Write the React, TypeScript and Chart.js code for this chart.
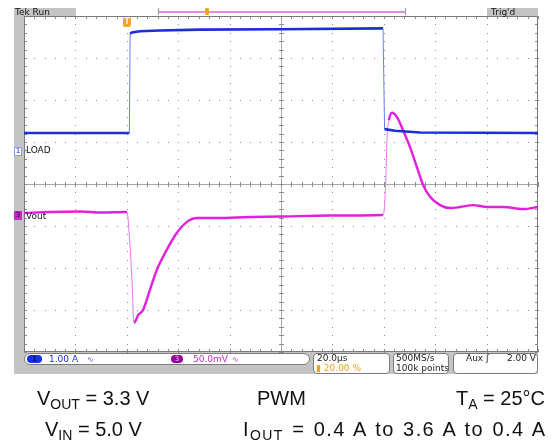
import React, { useEffect, useRef } from "react";
import { Chart, registerables } from "chart.js";

Chart.register(...registerables);

// ---- Data (time in µs relative to trigger, 20 µs/div) ----
const X_MIN_US = -40;
const X_MAX_US = 160;
const US_PER_DIV = 20;

// Channel 1: LOAD current (A), 1.00 A/div
const loadTimeUs = [-40, 1.0, 1.3, 2.0, 5.1, 12.9, 28.5, 59.6, 99.7, 100.3, 104.4, 114.1, 160];
const loadAmps = [0.43, 0.43, 2.79, 2.82, 2.85, 2.87, 2.89, 2.9, 2.92, 0.52, 0.48, 0.44, 0.43];

// Channel 3: Vout deviation (mV), 50.0 mV/div
const voutTimeUs = [
  -40, -30, -18, -10, 0.1, 0.9, 2.0, 2.8, 3.4, 4.4, 6.3, 9.0, 11.7, 15.6, 19.5, 23.4, 27.3,
  35.1, 47.9, 59.6, 79, 99.7, 100.3, 100.9, 101.2, 102, 103.2, 105.1, 107.5, 110.2, 112.9,
  115.3, 118, 121.9, 125.8, 129.7, 134.7, 140.2, 146.4, 154.2, 160,
];
const voutMv = [
  3.6, 4.8, 5.4, 4.2, 4.8, -20, -76, -127, -125, -118, -112, -88, -64, -40, -20, -7, -2.4,
  -2.4, -1.2, -0.6, 0.6, 1.2, 13, 55, 90, 114, 123, 118, 102, 82, 58, 37, 23, 13, 9.5, 10.7,
  13, 10.7, 10.7, 8.3, 10.7,
];

// Channel settings
const CH1_A_PER_DIV = 1.0;
const CH1_OFFSET_DIV = 0.786; // ground marker above center
const CH3_MV_PER_DIV = 50.0;
const CH3_OFFSET_DIV = -0.762; // marker below center
const V_DIVS = 4;

const BLUE = "#1a2fd4";
const BLUE_EDGE = "#6a7cf4";
const MAGENTA = "#e21fdc";
const MAGENTA_EDGE = "#f070f0";

const edgeWidth = (thick: number) => (ctx: any) => {
  const dx = Math.abs(ctx.p1.x - ctx.p0.x);
  const dy = Math.abs(ctx.p1.y - ctx.p0.y);
  return dy / Math.max(dx, 0.5) > 6 ? 1 : thick;
};
const edgeColor = (main: string, edge: string) => (ctx: any) => {
  const dx = Math.abs(ctx.p1.x - ctx.p0.x);
  const dy = Math.abs(ctx.p1.y - ctx.p0.y);
  return dy / Math.max(dx, 0.5) > 6 ? edge : main;
};

const gridPlugin = {
  id: "scopeGrid",
  beforeDatasetsDraw(chart: any) {
    const { ctx, chartArea: a, scales } = chart;
    const x = scales.x;
    const y = scales.yDiv;
    ctx.save();
    const minorX = US_PER_DIV / 5;
    // dotted vertical majors
    ctx.fillStyle = "#8c8c8c";
    for (let t = X_MIN_US + US_PER_DIV; t < X_MAX_US; t += US_PER_DIV) {
      if (Math.abs(t - (X_MIN_US + X_MAX_US) / 2) < 1e-6) continue;
      const px = Math.round(x.getPixelForValue(t));
      for (let d = -V_DIVS; d <= V_DIVS + 1e-6; d += 0.2) {
        const py = Math.round(y.getPixelForValue(d));
        ctx.fillRect(px, py, 1, 1);
      }
    }
    // dotted horizontal majors
    for (let d = -V_DIVS + 1; d < V_DIVS; d++) {
      if (d === 0) continue;
      const py = Math.round(y.getPixelForValue(d));
      for (let t = X_MIN_US; t <= X_MAX_US + 1e-6; t += minorX) {
        const px = Math.round(x.getPixelForValue(t));
        ctx.fillRect(px, py, 1, 1);
      }
    }
    // center cross
    ctx.strokeStyle = "#a8a8a8";
    ctx.lineWidth = 1;
    const cx = Math.round(x.getPixelForValue((X_MIN_US + X_MAX_US) / 2)) + 0.5;
    const cy = Math.round(y.getPixelForValue(0)) + 0.5;
    ctx.beginPath();
    ctx.moveTo(a.left, cy);
    ctx.lineTo(a.right, cy);
    ctx.moveTo(cx, a.top);
    ctx.lineTo(cx, a.bottom);
    ctx.stroke();
    ctx.strokeStyle = "#8c8c8c";
    ctx.beginPath();
    for (let t = X_MIN_US; t <= X_MAX_US + 1e-6; t += minorX) {
      const px = Math.round(x.getPixelForValue(t)) + 0.5;
      ctx.moveTo(px, cy - 2.5);
      ctx.lineTo(px, cy + 2.5);
      // border ticks
      ctx.moveTo(px, a.top);
      ctx.lineTo(px, a.top + 3);
      ctx.moveTo(px, a.bottom);
      ctx.lineTo(px, a.bottom - 3);
    }
    for (let d = -V_DIVS; d <= V_DIVS + 1e-6; d += 0.2) {
      const py = Math.round(y.getPixelForValue(d)) + 0.5;
      ctx.moveTo(cx - 2.5, py);
      ctx.lineTo(cx + 2.5, py);
      ctx.moveTo(a.left, py);
      ctx.lineTo(a.left + 3, py);
      ctx.moveTo(a.right, py);
      ctx.lineTo(a.right - 3, py);
    }
    ctx.stroke();
    // border
    ctx.strokeStyle = "#7a7a7a";
    ctx.strokeRect(a.left + 0.5, a.top + 0.5, a.right - a.left - 1, a.bottom - a.top - 1);
    ctx.restore();
  },
};

const abs = (s: React.CSSProperties): React.CSSProperties => ({ position: "absolute", ...s });
const small: React.CSSProperties = {
  fontFamily: "'DejaVu Sans', sans-serif",
  fontSize: "9px",
  lineHeight: "9px",
  whiteSpace: "nowrap",
};
const cap: React.CSSProperties = {
  fontFamily: "'Liberation Sans', Arial, sans-serif",
  fontSize: "20px",
  lineHeight: "20px",
  color: "#111",
  whiteSpace: "nowrap",
};
const subS: React.CSSProperties = { fontSize: "14px", verticalAlign: "-4px", lineHeight: "0" };

export default function App() {
  const ref = useRef<HTMLCanvasElement | null>(null);
  useEffect(() => {
    if (!ref.current) return;
    const chart = new Chart(ref.current, {
      type: "line",
      data: {
        datasets: [
          {
            label: "LOAD",
            data: loadTimeUs.map((t, i) => ({ x: t, y: loadAmps[i] })),
            yAxisID: "yLoad",
            borderColor: BLUE,
            borderWidth: 2.6,
            pointRadius: 0,
            segment: { borderWidth: edgeWidth(2.6), borderColor: edgeColor(BLUE, BLUE_EDGE) },
          },
          {
            label: "Vout",
            data: voutTimeUs.map((t, i) => ({ x: t, y: voutMv[i] })),
            yAxisID: "yVout",
            borderColor: MAGENTA,
            borderWidth: 2.4,
            pointRadius: 0,
            cubicInterpolationMode: "monotone",
            segment: { borderWidth: edgeWidth(2.4), borderColor: edgeColor(MAGENTA, MAGENTA_EDGE) },
          },
        ],
      },
      options: {
        animation: false,
        responsive: false,
        maintainAspectRatio: false,
        layout: { padding: { left: 24, right: 19, top: 16, bottom: 95 } },
        plugins: { legend: { display: false }, tooltip: { enabled: false } },
        scales: {
          x: { type: "linear", min: X_MIN_US, max: X_MAX_US, display: false },
          yLoad: {
            type: "linear",
            display: false,
            min: (-V_DIVS - CH1_OFFSET_DIV) * CH1_A_PER_DIV,
            max: (V_DIVS - CH1_OFFSET_DIV) * CH1_A_PER_DIV,
          },
          yVout: {
            type: "linear",
            display: false,
            min: (-V_DIVS - CH3_OFFSET_DIV) * CH3_MV_PER_DIV,
            max: (V_DIVS - CH3_OFFSET_DIV) * CH3_MV_PER_DIV,
          },
          yDiv: { type: "linear", display: false, min: -V_DIVS, max: V_DIVS },
        },
      },
      plugins: [gridPlugin],
    });
    return () => chart.destroy();
  }, []);

  const gray = "#c4c4c4";
  const boxStyle: React.CSSProperties = {
    background: "#fff",
    border: "1px solid #7a7a7a",
    boxSizing: "border-box",
  };

  return (
    <div style={abs({ left: 0, top: 0, width: 557, height: 447, background: "#fff", overflow: "hidden" })}>
      {/* frame grays */}
      <div style={abs({ left: 14, top: 8, width: 10, height: 366, background: gray })} />
      <div style={abs({ left: 14, top: 8, width: 62, height: 8, background: gray })} />
      <div style={abs({ left: 487, top: 8, width: 51, height: 8, background: gray })} />
      <div style={abs({ left: 14, top: 352, width: 524, height: 22, background: gray })} />
      <canvas ref={ref} width={557} height={447} style={abs({ left: 0, top: 0, width: 557, height: 447 })} />

      {/* header */}
      <div style={abs({ ...small, left: 15, top: 8, color: "#111" })}>Tek Run</div>
      <div style={abs({ ...small, left: 491, top: 8, color: "#111" })}>Trig'd</div>
      <div style={abs({ left: 159, top: 11, width: 247, height: 1.5, background: "#e08ee0" })} />
      <div style={abs({ left: 158, top: 8, width: 1, height: 7, background: "#999" })} />
      <div style={abs({ left: 405, top: 8, width: 1, height: 7, background: "#999" })} />
      <div style={abs({ left: 205, top: 8, width: 4, height: 7, background: "#f2a52a", borderRadius: 1 })} />
      <div
        style={abs({
          left: 123,
          top: 17,
          width: 8,
          height: 10,
          background: "#f2a52a",
          borderRadius: 2,
          color: "#fff6dc",
          fontFamily: "'DejaVu Sans', sans-serif",
          fontWeight: 700,
          fontSize: "8px",
          lineHeight: "10px",
          textAlign: "center",
        })}
      >
        T
      </div>

      {/* channel markers */}
      <div
        style={abs({
          left: 14,
          top: 147,
          width: 8,
          height: 9,
          background: "#fff",
          border: "1px solid #8a9cff",
          boxSizing: "border-box",
          color: "#2030c0",
          fontFamily: "'DejaVu Sans', sans-serif",
          fontSize: "7px",
          lineHeight: "7px",
          textAlign: "center",
        })}
      >
        1
      </div>
      <div style={abs({ ...small, left: 26, top: 146, color: "#111" })}>LOAD</div>
      <div
        style={abs({
          left: 14,
          top: 211,
          width: 8,
          height: 9,
          background: "#c42ac4",
          color: "#3a003a",
          fontFamily: "'DejaVu Sans', sans-serif",
          fontSize: "7px",
          lineHeight: "9px",
          textAlign: "center",
        })}
      >
        3
      </div>
      <div style={abs({ ...small, left: 26, top: 212, color: "#111" })}>Vout</div>

      {/* status bar */}
      <div style={abs({ ...boxStyle, left: 24, top: 353, width: 286, height: 12, borderRadius: 6 })} />
      <div
        style={abs({
          left: 27,
          top: 355,
          width: 15,
          height: 8,
          background: "#1430ec",
          borderRadius: 4,
          color: "#000",
          fontFamily: "'DejaVu Sans', sans-serif",
          fontSize: "7px",
          lineHeight: "8px",
          textAlign: "center",
        })}
      >
        1
      </div>
      <div style={abs({ ...small, left: 49, top: 355, color: "#1a30d8" })}>1.00 A</div>
      <div style={abs({ ...small, fontSize: "8px", left: 87, top: 355, color: "#4050e0" })}>∿</div>
      <div
        style={abs({
          left: 171,
          top: 355,
          width: 12,
          height: 8,
          background: "#980098",
          borderRadius: 4,
          color: "#f0c0f0",
          fontFamily: "'DejaVu Sans', sans-serif",
          fontSize: "7px",
          lineHeight: "8px",
          textAlign: "center",
        })}
      >
        3
      </div>
      <div style={abs({ ...small, left: 193, top: 355, color: "#c22ccc" })}>50.0mV</div>
      <div style={abs({ ...small, fontSize: "8px", left: 232, top: 355, color: "#c22ccc" })}>∿</div>

      <div style={abs({ ...boxStyle, left: 313, top: 353, width: 77, height: 21, borderRadius: 4 })} />
      <div style={abs({ ...small, left: 317, top: 354, color: "#222" })}>20.0µs</div>
      <div style={abs({ ...small, left: 316, top: 364, color: "#f0a020" })}>▮ 20.00 %</div>

      <div style={abs({ ...boxStyle, left: 393, top: 353, width: 56, height: 21, borderRadius: 4 })} />
      <div style={abs({ ...small, left: 396, top: 354, color: "#222" })}>500MS/s</div>
      <div style={abs({ ...small, left: 396, top: 364, color: "#222" })}>100k points</div>

      <div style={abs({ ...boxStyle, left: 453, top: 353, width: 85, height: 21, borderRadius: 4 })} />
      <div style={abs({ ...small, left: 466, top: 354, color: "#222" })}>Aux ʃ</div>
      <div style={abs({ ...small, right: 557 - 536, top: 354, color: "#222" })}>2.00 V</div>

      {/* caption */}
      <div style={abs({ ...cap, left: 37, top: 388 })}>
        V<span style={subS}>OUT</span> = 3.3 V
      </div>
      <div style={abs({ ...cap, left: 257, top: 388 })}>PWM</div>
      <div style={abs({ ...cap, right: 557 - 545, top: 388 })}>
        T<span style={subS}>A</span> = 25°C
      </div>
      <div style={abs({ ...cap, left: 45, top: 419 })}>
        V<span style={subS}>IN</span> = 5.0 V
      </div>
      <div style={abs({ ...cap, left: 243, top: 419, letterSpacing: "1.4px", wordSpacing: "1.5px" })}>
        I<span style={subS}>OUT</span> = 0.4 A to 3.6 A to 0.4 A
      </div>
    </div>
  );
}
